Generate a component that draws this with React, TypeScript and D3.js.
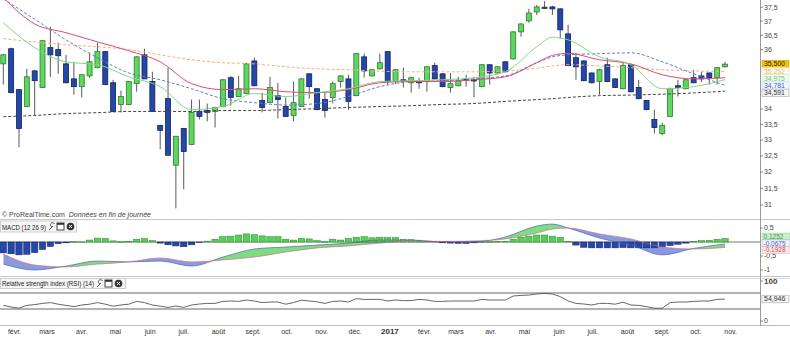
import React from "react";
import * as d3 from "d3";

// ---------- DATA (weekly candles, first week ending 2016-01-22) ----------
const firstWeek = new Date(2016, 0, 22);
const opens = [35.51,36.03,34.64,34.08,35.27,34.71,36.07,36.0,35.51,35.0,34.74,35.1,35.38,35.93,34.87,34.15,34.15,34.84,35.82,34.91,33.47,34.34,32.21,33.37,32.86,33.92,33.95,33.92,34.08,35.04,34.41,34.51,35.61,34.28,34.21,34.44,34.08,33.79,34.08,35.17,34.67,34.31,34.38,34.91,35.0,34.44,35.75,35.1,35.34,35.93,34.91,34.97,34.87,34.91,34.91,35.45,35.17,34.71,34.77,35.0,34.97,34.74,35.48,35.2,35.58,35.68,36.62,37.01,37.33,37.5,37.51,37.44,36.55,35.72,35.61,35.2,34.91,35.48,35.0,34.67,35.48,34.71,34.28,33.66,33.21,33.76,34.77,34.67,35.04,35.1,35.2,35.04,35.41];
const highs = [35.85,36.07,34.66,35.34,35.31,36.34,36.8,36.24,35.82,35.58,35.16,35.89,36.24,35.95,34.97,34.61,34.93,35.77,36.03,35.24,33.49,35.38,33.12,33.39,34.31,34.31,34.18,34.07,34.99,35.1,35.1,35.55,35.72,34.54,35.07,34.87,34.38,34.91,35.02,35.19,34.69,34.54,34.91,35.12,35.14,35.88,35.86,35.33,35.86,35.95,35.33,35.38,35.07,35.04,35.43,35.55,35.19,35.2,35.07,35.14,35.07,35.5,35.5,35.43,35.6,36.64,36.92,37.44,37.58,37.72,37.55,37.46,36.87,35.89,35.63,35.22,35.34,35.72,35.02,35.55,35.5,34.97,34.3,33.98,33.56,34.71,34.97,34.99,35.31,35.24,35.22,35.4,35.58];
const lows = [34.81,34.52,32.77,34.06,33.79,34.69,35.07,35.17,34.85,34.47,34.38,35.04,35.36,34.79,33.9,33.89,34.13,34.57,35.0,33.92,32.71,32.52,30.9,31.47,32.84,33.66,33.6,33.4,34.05,34.11,34.39,34.49,34.75,33.89,34.19,33.69,33.74,33.6,34.06,34.34,33.96,33.72,34.18,34.71,33.98,34.42,35.04,35.08,35.32,34.81,34.84,34.71,34.54,34.67,34.57,34.98,34.72,34.54,34.75,34.74,34.38,34.72,34.81,35.18,35.22,35.66,36.45,36.94,37.22,37.44,37.22,36.38,35.43,34.97,34.92,34.85,34.47,34.89,34.69,34.65,34.55,34.32,33.96,33.21,33.15,33.74,34.41,34.65,34.85,34.9,34.81,34.81,35.39];
const closes = [35.82,34.54,33.37,35.07,34.94,36.31,35.82,35.79,34.87,34.74,35.14,35.58,35.93,34.81,33.92,34.41,34.91,35.75,35.0,33.92,33.31,32.52,33.12,32.64,33.89,33.76,33.89,34.05,34.97,34.38,34.67,35.51,34.77,34.05,34.71,34.31,33.76,34.21,35.0,34.74,33.98,33.95,34.84,35.1,34.25,35.86,35.27,35.31,35.55,34.91,35.31,34.94,35.04,34.87,35.41,35.0,34.74,34.84,34.94,34.97,34.94,35.48,35.2,35.41,35.24,36.62,36.9,37.29,37.51,37.5,37.44,36.69,35.45,35.41,34.94,34.87,35.31,34.91,34.71,35.45,34.57,34.34,33.98,33.4,33.47,34.67,34.71,34.97,34.87,35.0,35.04,35.38,35.5];

// moving averages read at these candle indices
const maIndex = [0,4,8,12,16,20,24,28,32,36,40,44,48,52,56,60,64,68,70,72,76,80,84,88,92];
const maRed = [37.85,36.9,36.59,36.27,35.96,35.58,34.84,34.64,34.67,34.57,34.54,34.64,34.87,34.91,34.91,34.97,35.07,35.55,35.8,35.87,35.65,35.51,35.14,35.0,35.04];
const maGreen = [36.94,36.07,35.58,35.48,35.07,34.74,33.98,34.08,34.51,34.41,34.54,34.67,34.91,34.94,34.97,35.04,35.24,36.1,36.43,36.34,35.75,35.48,34.67,34.74,34.975];
const maBlue = [37.8,37.07,36.34,35.72,35.2,34.97,34.67,34.34,34.21,34.13,34.18,34.41,34.74,34.91,34.94,35.0,35.1,35.55,35.75,35.82,35.86,35.89,35.58,35.17,34.781];
const maOrange = [36.38,36.27,36.17,36.1,36.0,35.82,35.65,35.55,35.51,35.41,35.34,35.31,35.26,35.24,35.24,35.24,35.27,35.36,35.44,35.48,35.44,35.38,35.31,35.27,35.252];
const maDark = [33.75,33.79,33.85,33.88,33.92,33.92,33.92,33.95,33.95,33.98,34.01,34.05,34.08,34.11,34.15,34.18,34.25,34.31,34.34,34.38,34.44,34.46,34.49,34.53,34.591];

// MACD (12 26 9)
const macdLine = [-0.79,-1.0,-0.86,-0.68,-0.71,-0.68,-0.86,-0.54,-0.25,-0.18,-0.11,-0.04,0.07,0.07,0.0,0.0,0.18,0.57,0.64,0.5,0.14,-0.11,-0.46,-0.23,-0.0675];
const macdSignal = [-0.43,-0.82,-0.89,-0.79,-0.71,-0.57,-0.71,-0.64,-0.54,-0.36,-0.21,-0.14,-0.04,0.04,0.02,0.04,0.11,0.32,0.46,0.5,0.29,0.11,-0.18,-0.25,-0.1928];
const macdHist = [-0.39,-0.42,-0.46,-0.44,-0.38,-0.27,-0.16,-0.06,-0.03,0.01,0.0,0.07,0.14,0.13,0.04,0.01,0.02,0.1,0.12,0.05,-0.04,-0.1,-0.14,-0.17,-0.1,-0.02,0.03,0.1,0.19,0.21,0.25,0.29,0.26,0.22,0.19,0.19,0.1,0.07,0.13,0.11,0.05,0.01,0.1,0.07,0.13,0.17,0.19,0.15,0.17,0.16,0.16,0.09,0.08,0.04,0.03,0.02,-0.03,-0.04,-0.05,-0.05,-0.03,0.0,0.01,0.02,0.02,0.1,0.17,0.21,0.25,0.25,0.21,0.17,0.02,-0.11,-0.19,-0.21,-0.21,-0.21,-0.21,-0.2,-0.21,-0.21,-0.21,-0.21,-0.17,-0.13,-0.08,-0.04,0.02,0.05,0.06,0.1,0.1252];

// RSI (14)
const rsi = [39,35,32,39,41,44,46,42,39,36,40,42,46,42,37,40,42,49,46,40,37,34,37.5,34,40,42.5,44,44,49,50,49,52.5,50,46,47.5,47.5,42,46,52,50,48,44,49,50,47.5,56,54,54,54,50,52.5,51,51,54,52.5,49,49,50,50,50,50,54,52.5,52.5,52.5,62.5,64,65,67.5,69,67.5,61,50,44,42.5,40,44,44,42,47,40,39,36,32,32,46,47.5,47.5,49,50,50,54,54.946];

// axis ticks
const priceTicks = [31,31.5,32,32.5,33,33.5,34,34.5,35,35.5,36,36.5,37,37.5];
const macdTicks = [0.5,-0.5,-1];
const rsiTicks = [100,0];
const rsiLevels = [70,30];
const monthNames = ["janv.","févr.","mars","avr.","mai","juin","juil.","août","sept.","oct.","nov.","déc."];

const FONT = "'Liberation Sans', Arial, sans-serif";

function fr(v: number, d: number) {
  return v.toFixed(d).replace(".", ",");
}
function trimFr(v: number) {
  return String(v).replace(".", ",");
}

function spread<T extends { y: number }>(items: T[], gap: number): T[] {
  const arr = items.map((d) => ({ ...d })).sort((a, b) => a.y - b.y);
  for (let k = 0; k < 60; k++) {
    let moved = false;
    for (let j = 1; j < arr.length; j++) {
      const d = arr[j].y - arr[j - 1].y;
      if (d < gap - 0.01) {
        const s = (gap - d) / 2;
        arr[j - 1].y -= s;
        arr[j].y += s;
        moved = true;
      }
    }
    if (!moved) break;
  }
  return arr;
}

function Icons({ x, y }: { x: number; y: number }) {
  return (
    <g>
      <path d={`M${x + 1},${y + 8} L${x + 5},${y + 4} M${x + 4},${y + 5} a2.2,2.2 0 1 1 2.5,-3.2`} stroke="#444" strokeWidth={0.9} fill="none" />
      <rect x={x + 9} y={y + 1} width={7} height={7} fill="#fff" stroke="#333" strokeWidth={0.9} />
      <rect x={x + 9} y={y + 1} width={7} height={1.8} fill="#333" />
      <circle cx={x + 22.5} cy={y + 4.5} r={3.8} fill="#333" />
      <path d={`M${x + 21},${y + 3} l3,3 M${x + 24},${y + 3} l-3,3`} stroke="#fff" strokeWidth={1} />
    </g>
  );
}

export default function App() {
  const W = 790;
  const H = 337;
  const axisX = 760;
  const dates = opens.map((_, i) => d3.timeDay.offset(firstWeek, 7 * i));
  const x = d3.scaleTime().domain([dates[0], dates[dates.length - 1]]).range([3.3, 725]);
  const xi = (i: number) => x(dates[i]);
  const yP = d3.scaleLog().domain([31, 37.5]).range([205, 7.2]);
  const yM = d3.scaleLinear().domain([-1, 0.5]).range([270, 228]);
  const yR = d3.scaleLinear().domain([0, 100]).range([321, 281]);

  const maLine = (vals: number[]) =>
    d3.line<number>().x((_, k) => xi(maIndex[k])).y((v) => yP(v)).curve(d3.curveMonotoneX)(vals) || "";
  const mLine = (vals: number[]) =>
    d3.line<number>().x((_, k) => xi(maIndex[k])).y((v) => yM(v)).curve(d3.curveMonotoneX)(vals) || "";

  const macdArea =
    d3
      .area<number>()
      .x((_, k) => xi(maIndex[k]))
      .y0((_, k) => yM(macdSignal[k]))
      .y1((v) => yM(v))
      .curve(d3.curveMonotoneX)(macdLine) || "";
  const sigPath = mLine(macdSignal);
  const aboveSig = `${sigPath}L${xi(92)},200L${xi(0)},200Z`;
  const belowSig = `${sigPath}L${xi(92)},290L${xi(0)},290Z`;

  const rsiPath = d3.line<number>().x((_, i) => xi(i)).y((v) => yR(v))(rsi) || "";

  const months = d3.timeMonth.range(new Date(2016, 1, 1), new Date(2017, 10, 2));

  const last = closes.length - 1;
  const priceLabels = spread(
    [
      { y: yP(closes[last]), text: fr(closes[last], 3), fill: "#f6c400", stroke: "#d8a200", color: "#222" },
      { y: yP(maOrange[maOrange.length - 1]), text: fr(maOrange[maOrange.length - 1], 3), fill: "#fff8ef", stroke: "#f6dcc0", color: "#f0b37c" },
      { y: yP(maGreen[maGreen.length - 1]), text: fr(maGreen[maGreen.length - 1], 3), fill: "#f1fbf1", stroke: "#cfeecf", color: "#72c872" },
      { y: yP(maBlue[maBlue.length - 1]), text: fr(maBlue[maBlue.length - 1], 3), fill: "#f5f7ff", stroke: "#c9d3f3", color: "#3b5dcc" },
      { y: yP(maDark[maDark.length - 1]), text: fr(maDark[maDark.length - 1], 3), fill: "#f4f4f4", stroke: "#a8a8a8", color: "#333" },
    ],
    7.2
  );
  const macdLabels = spread(
    [
      { y: yM(macdHist[last]), text: fr(macdHist[last], 4), fill: "#caf0ca", stroke: "#9bd89b", color: "#3d9e3d" },
      { y: yM(macdLine[macdLine.length - 1]), text: fr(macdLine[macdLine.length - 1], 4), fill: "#f1f3fc", stroke: "#a9b3dc", color: "#3f5fc4" },
      { y: yM(macdSignal[macdSignal.length - 1]), text: fr(macdSignal[macdSignal.length - 1], 4), fill: "#fde9ea", stroke: "#eab0b4", color: "#d24a52" },
    ],
    6.8
  );

  const visiblePriceTicks = priceTicks.filter((t) => priceLabels.every((l) => Math.abs(yP(t) - l.y) > 7.5));
  const visibleMacdTicks = macdTicks.filter((t) => macdLabels.every((l) => Math.abs(yM(t) - l.y) > 5));

  const bodyW = 5;
  const barW = 6.4;

  return (
    <div style={{ position: "absolute", left: 0, top: 0, width: W, height: H, background: "#fff" }}>
      <svg width={W} height={H} style={{ display: "block", fontFamily: FONT }}>
        <defs>
          <clipPath id="mainClip">
            <rect x={0} y={0} width={axisX} height={218} />
          </clipPath>
          <clipPath id="macdClip">
            <rect x={0} y={220} width={axisX} height={56} />
          </clipPath>
          <clipPath id="aboveSig">
            <path d={aboveSig} />
          </clipPath>
          <clipPath id="belowSig">
            <path d={belowSig} />
          </clipPath>
        </defs>
        <rect x={0} y={0} width={W} height={H} fill="#fff" />

        {/* ---------- price panel ---------- */}
        <g clipPath="url(#mainClip)">
          {opens.map((o, i) => {
            const c = closes[i];
            const up = c > o;
            const doji = Math.abs(c - o) < 0.005;
            const cx = xi(i);
            const top = yP(Math.max(o, c));
            const bot = yP(Math.min(o, c));
            return (
              <g key={i}>
                <line x1={cx} x2={cx} y1={yP(highs[i])} y2={yP(lows[i])} stroke="#5a5a5a" strokeWidth={1} />
                <rect
                  x={cx - bodyW / 2}
                  y={top}
                  width={bodyW}
                  height={Math.max(1.2, bot - top)}
                  fill={doji ? "#333" : up ? "#5fd65f" : "#2447a8"}
                  stroke={doji ? "#333" : up ? "#2f7d2f" : "#0f2262"}
                  strokeWidth={0.8}
                />
              </g>
            );
          })}
          <path d={maLine(maDark)} fill="none" stroke="#444" strokeWidth={1} strokeDasharray="3,2" />
          <path d={maLine(maOrange)} fill="none" stroke="#f3b27c" strokeWidth={1} strokeDasharray="3,2" />
          <path d={maLine(maBlue)} fill="none" stroke="#5d7dd6" strokeWidth={1} strokeDasharray="3,2" />
          <path d={maLine(maRed)} fill="none" stroke="#df4a72" strokeWidth={1} />
          <path d={maLine(maGreen)} fill="none" stroke="#82d882" strokeWidth={1} />
        </g>
        <text x={2} y={216.5} fontSize={7} fill="#444">
          © ProRealTime.com <tspan fontStyle="italic" dx={2}>Données en fin de journée</tspan>
        </text>

        {/* ---------- separators & axis line ---------- */}
        <line x1={0} x2={W} y1={219.5} y2={219.5} stroke="#c8c8c8" />
        <line x1={0} x2={W} y1={276.5} y2={276.5} stroke="#c8c8c8" />
        <line x1={0} x2={W} y1={278.5} y2={278.5} stroke="#dcdcdc" />
        <line x1={0} x2={W} y1={325.5} y2={325.5} stroke="#bdbdbd" />
        <line x1={axisX + 0.5} x2={axisX + 0.5} y1={0} y2={326} stroke="#9a9a9a" />

        {/* ---------- MACD panel ---------- */}
        <g clipPath="url(#macdClip)">
          <path d={macdArea} fill="#72d872" opacity={0.9} clipPath="url(#aboveSig)" />
          <path d={macdArea} fill="#7d8fdb" opacity={0.9} clipPath="url(#belowSig)" />
          <line x1={0} x2={axisX} y1={yM(0)} y2={yM(0)} stroke="#555" strokeWidth={0.8} />
          {macdHist.map((v, i) => (
            <rect
              key={i}
              x={xi(i) - barW / 2}
              y={Math.min(yM(v), yM(0))}
              width={barW}
              height={Math.max(0.6, Math.abs(yM(v) - yM(0)))}
              fill={v >= 0 ? "#55cf55" : "#2447a8"}
              stroke={v >= 0 ? "#2e8a2e" : "#13256a"}
              strokeWidth={0.5}
            />
          ))}
          <path d={mLine(macdLine)} fill="none" stroke="#4d63b8" strokeWidth={0.7} />
          <path d={sigPath} fill="none" stroke="#c9607e" strokeWidth={0.6} />
        </g>
        <rect x={0.5} y={221} width={76} height={11} fill="#f5f5f5" stroke="#cfcfcf" />
        <text x={2} y={229.5} fontSize={7} fill="#222" textLength={44} lengthAdjust="spacingAndGlyphs">MACD (12 26 9)</text>
        <Icons x={48} y={222} />

        {/* ---------- RSI panel ---------- */}
        {rsiLevels.map((l) => (
          <line key={l} x1={0} x2={axisX} y1={yR(l)} y2={yR(l)} stroke="#9a9a9a" strokeWidth={1.3} />
        ))}
        <path d={rsiPath} fill="none" stroke="#555" strokeWidth={0.9} />
        <rect x={0.5} y={278.5} width={125} height={10} fill="#f5f5f5" stroke="#cfcfcf" />
        <text x={2} y={286} fontSize={7} fill="#222" textLength={92} lengthAdjust="spacingAndGlyphs">Relative strength index (RSI) (14)</text>
        <Icons x={96} y={279} />

        {/* ---------- right axis ---------- */}
        {visiblePriceTicks.map((t) => (
          <g key={t}>
            <line x1={axisX} x2={axisX + 3} y1={yP(t)} y2={yP(t)} stroke="#888" />
            <text x={axisX + 4} y={yP(t)} dy="0.35em" fontSize={7} fill="#444">
              {trimFr(t)}
            </text>
          </g>
        ))}
        {priceLabels.map((l, k) => (
          <g key={k}>
            <rect x={axisX + 2} y={l.y - 3.6} width={27} height={7.2} fill={l.fill} stroke={l.stroke} strokeWidth={0.6} />
            <text x={axisX + 4} y={l.y} dy="0.35em" fontSize={6.8} fill={l.color}>
              {l.text}
            </text>
          </g>
        ))}

        {visibleMacdTicks.map((t) => (
          <g key={t}>
            <line x1={axisX} x2={axisX + 3} y1={yM(t)} y2={yM(t)} stroke="#888" />
            <text x={axisX + 4} y={yM(t)} dy="0.35em" fontSize={7} fill="#444">
              {trimFr(t)}
            </text>
          </g>
        ))}
        {macdLabels.map((l, k) => (
          <g key={k}>
            <rect x={axisX + 2} y={l.y - 3.4} width={28} height={6.8} fill={l.fill} stroke={l.stroke} strokeWidth={0.6} />
            <text x={axisX + 3.5} y={l.y} dy="0.35em" fontSize={6.5} fill={l.color}>
              {l.text}
            </text>
          </g>
        ))}

        {rsiTicks.map((t) => (
          <g key={t}>
            <line x1={axisX} x2={axisX + 3} y1={yR(t)} y2={yR(t)} stroke="#888" />
            <text x={axisX + 4} y={yR(t)} dy="0.35em" fontSize={t === 100 ? 8 : 7} fontWeight={t === 100 ? "bold" : "normal"} fill="#444">
              {t}
            </text>
          </g>
        ))}
        <rect x={axisX + 2} y={yR(rsi[last]) - 3.8} width={27} height={7.6} fill="#f4f4f4" stroke="#a8a8a8" strokeWidth={0.6} />
        <text x={axisX + 4} y={yR(rsi[last])} dy="0.35em" fontSize={7} fill="#333">
          {fr(rsi[last], 3)}
        </text>

        {/* ---------- x axis ---------- */}
        {months.map((m, k) => {
          const isYear = m.getMonth() === 0;
          return (
            <text
              key={k}
              x={x(m)}
              y={334}
              textAnchor="middle"
              fontSize={isYear ? 8 : 7}
              fontWeight={isYear ? "bold" : "normal"}
              fill="#333"
            >
              {isYear ? String(m.getFullYear()) : monthNames[m.getMonth()]}
            </text>
          );
        })}
      </svg>
    </div>
  );
}
